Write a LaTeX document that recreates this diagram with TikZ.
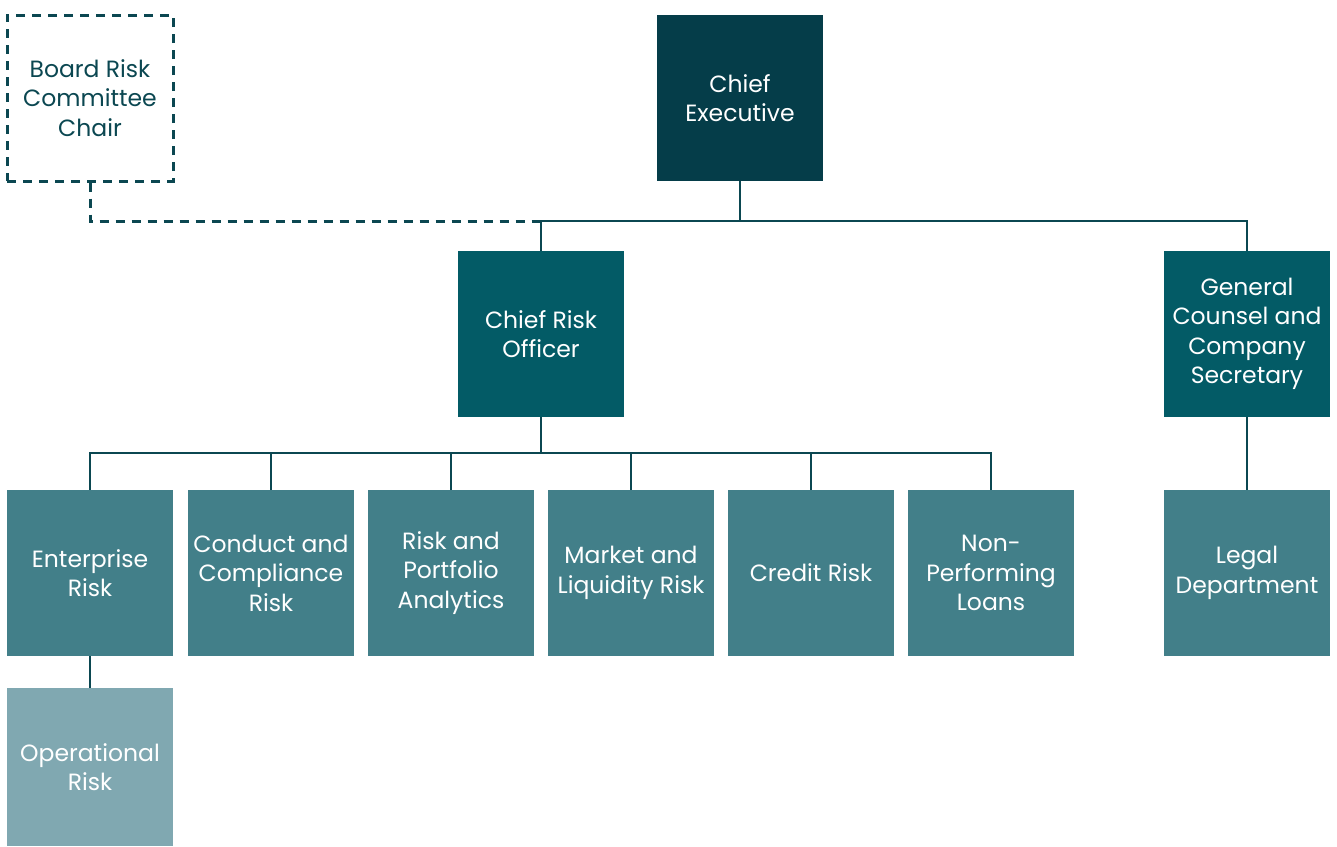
\documentclass[tikz,border=0pt]{standalone}
\usepackage{fontspec}
\setmainfont{Poppins}
\definecolor{ceteal}{HTML}{053D49}
\definecolor{croteal}{HTML}{035B66}
\definecolor{unitteal}{HTML}{427F89}
\definecolor{subteal}{HTML}{80A8B1}
\definecolor{linkteal}{HTML}{0B4751}
\tikzset{
  orgbox/.style={minimum width=166pt, minimum height=166pt, inner sep=0pt, align=center,
    text=white, font=\fontsize{23.5}{29.5}\selectfont},
  link/.style={draw=linkteal, line width=2.5pt},
}
\begin{document}
\begin{tikzpicture}[x=1pt, y=-1pt]
\useasboundingbox (0,0) rectangle (1337,846);
\node[orgbox, draw=linkteal, line width=3pt, dash pattern=on 9pt off 7pt, text=linkteal] (board) at (90,98) {Board Risk\\Committee\\Chair};
\node[orgbox, fill=ceteal] (ceo) at (740,98) {Chief\\Executive};
\node[orgbox, fill=croteal] (cro) at (541,334) {Chief Risk\\Officer};
\node[orgbox, fill=croteal] (gc) at (1247,334) {General\\Counsel and\\Company\\Secretary};
\foreach \n/\x/\t in {ent/90/{Enterprise\\Risk}, cond/271/{Conduct and\\Compliance\\Risk},
    rpa/451/{Risk and\\Portfolio\\Analytics}, mlr/631/{Market and\\Liquidity Risk},
    cred/811/{Credit Risk}, npl/991/{Non-\\Performing\\Loans}}{
\node[orgbox, fill=unitteal] (\n) at (\x,573) {\t};
}
\node[orgbox, fill=unitteal] (legal) at (1247,573) {Legal\\Department};
\node[orgbox, fill=subteal, minimum height=158pt] (ops) at (90,767) {Operational\\Risk};
\coordinate (dashend) at (540,221);
\draw[link] (ceo.south) -- ++(0,40) -| (cro.north);
\draw[link] (ceo.south) ++(0,40) -| (gc.north);
\draw[link, line width=3pt, dash pattern=on 9pt off 7pt] (board.south) |- (dashend);
\foreach \n in {ent,cond,rpa,mlr,cred,npl}{
\draw[link] (cro.south) -- ++(0,36) -| (\n.north);
}
\draw[link] (gc) -- (legal);
\draw[link] (ent) -- (ops);
\end{tikzpicture}
\end{document}
